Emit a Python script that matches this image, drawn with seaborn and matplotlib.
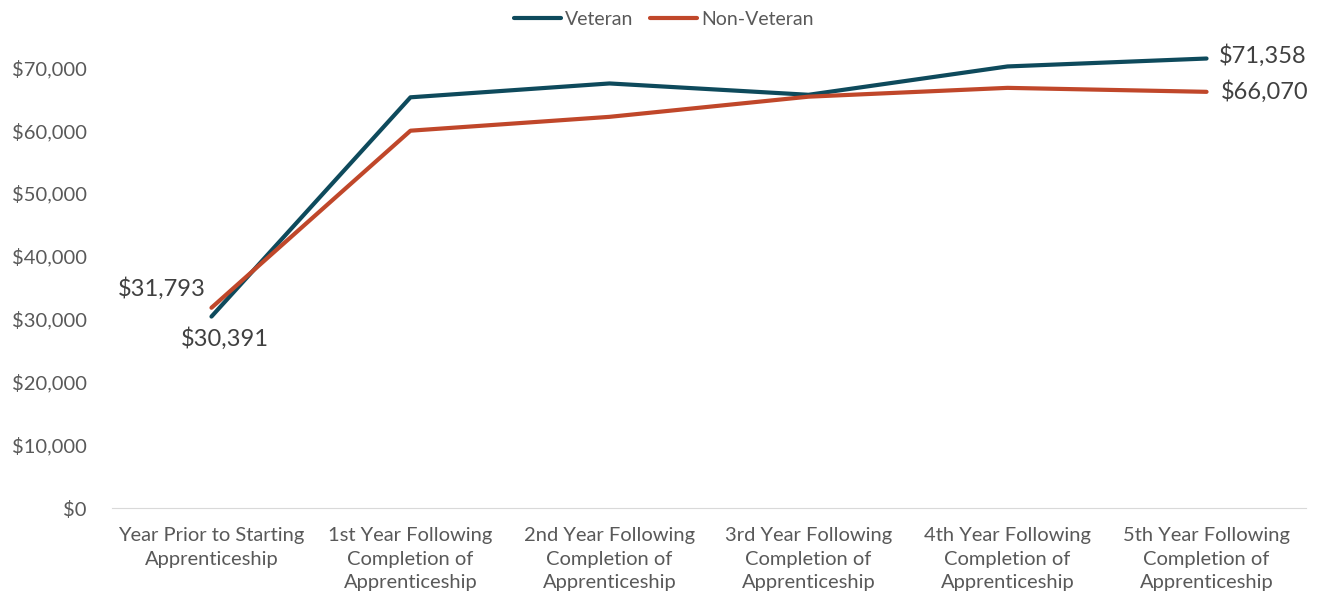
import pandas as pd
import seaborn as sns
import matplotlib.pyplot as plt

# data
periods = [
    "Year Prior to Starting\nApprenticeship",
    "1st Year Following\nCompletion of\nApprenticeship",
    "2nd Year Following\nCompletion of\nApprenticeship",
    "3rd Year Following\nCompletion of\nApprenticeship",
    "4th Year Following\nCompletion of\nApprenticeship",
    "5th Year Following\nCompletion of\nApprenticeship",
]
veteran = [30391, 65200, 67400, 65600, 70100, 71358]
non_veteran = [31793, 59900, 62100, 65300, 66700, 66070]

df = pd.DataFrame({
    "period": periods * 2,
    "wage": veteran + non_veteran,
    "group": ["Veteran"] * 6 + ["Non-Veteran"] * 6,
})

sns.set_style("white")
plt.rcParams["font.family"] = ["Lato", "DejaVu Sans"]
grey = "#595959"

fig = plt.figure(figsize=(13.25, 5.98), dpi=100)
ax = fig.add_axes([0.0845, 0.1505, 0.9012, 0.79])

sns.lineplot(data=df, x="period", y="wage", hue="group", sort=False,
             palette={"Veteran": "#0E4A5C", "Non-Veteran": "#C0472A"},
             linewidth=3, ax=ax)

ax.set_xlim(-0.5, 5.5)
ax.set_ylim(0, 75000)
ax.set_yticks(range(0, 70001, 10000))
ax.set_yticklabels([f"${v:,}" for v in range(0, 70001, 10000)])
ax.tick_params(axis="both", length=0, labelsize=14.5, labelcolor=grey)
ax.tick_params(axis="x", pad=14)
ax.tick_params(axis="y", pad=18)
for t in ax.get_xticklabels():
    t.set_linespacing(1.45)
ax.set_xlabel("")
ax.set_ylabel("")
for s in ["top", "right", "left"]:
    ax.spines[s].set_visible(False)
ax.spines["bottom"].set_color("#D9D9D9")

# data labels on first and last points
lab = dict(fontsize=17, color="#404040")
ax.annotate(f"${non_veteran[0]:,}", (0, non_veteran[0]), xytext=(-4, 6),
            textcoords="offset points", ha="right", va="bottom", **lab)
ax.annotate(f"${veteran[0]:,}", (0, veteran[0]), xytext=(10, -8),
            textcoords="offset points", ha="center", va="top", **lab)
ax.annotate(f"${veteran[-1]:,}", (5, veteran[-1]), xytext=(9, 2),
            textcoords="offset points", ha="left", va="center", **lab)
ax.annotate(f"${non_veteran[-1]:,}", (5, non_veteran[-1]), xytext=(10, 0),
            textcoords="offset points", ha="left", va="center", **lab)

leg = ax.legend(loc="upper center", bbox_to_anchor=(0.462, 1.09), ncol=2,
                frameon=False, fontsize=14, handlelength=2.4,
                columnspacing=0.9, handletextpad=0.2)
for t in leg.get_texts():
    t.set_color(grey)

fig.savefig("out.png", dpi=100)
